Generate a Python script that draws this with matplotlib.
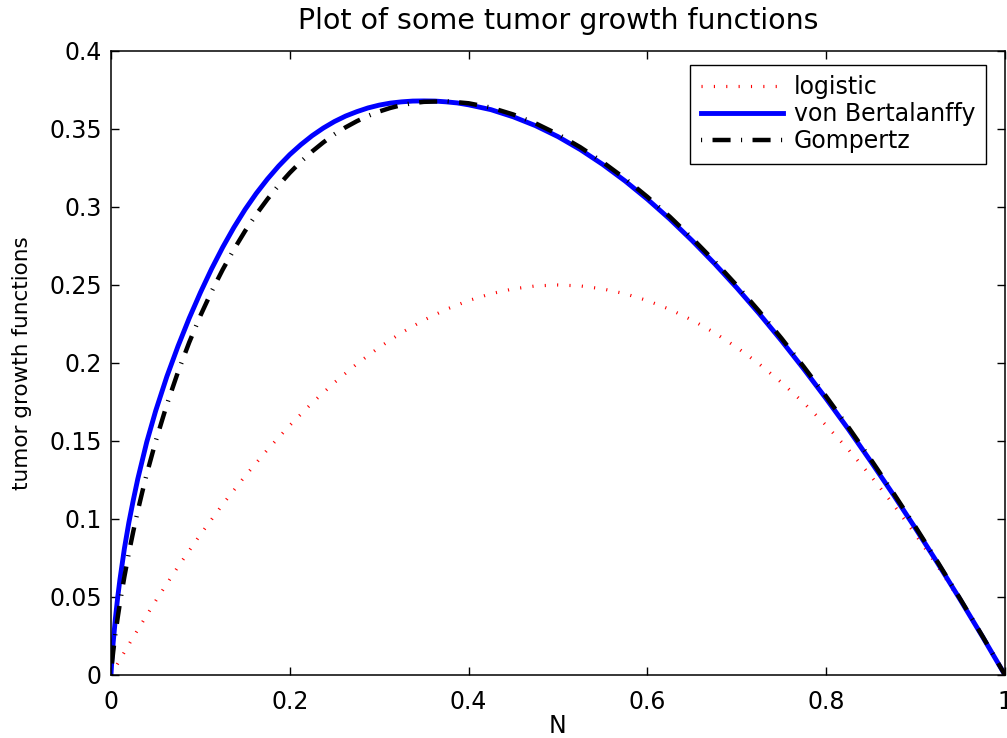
import matplotlib
matplotlib.use("Agg")
import matplotlib.pyplot as plt

# values
n_logistic = [0.0, 0.025, 0.05, 0.075, 0.1, 0.125, 0.15, 0.175, 0.2, 0.225, 0.25,
              0.275, 0.3, 0.325, 0.35, 0.375, 0.4, 0.425, 0.45, 0.475, 0.5,
              0.525, 0.55, 0.575, 0.6, 0.625, 0.65, 0.675, 0.7, 0.725, 0.75,
              0.775, 0.8, 0.825, 0.85, 0.875, 0.9, 0.925, 0.95, 0.975, 1.0]
logistic = [0.0, 0.0244, 0.0475, 0.0694, 0.09, 0.1094, 0.1275, 0.1444, 0.16, 0.1744, 0.1875,
            0.1994, 0.21, 0.2194, 0.2275, 0.2344, 0.24, 0.2444, 0.2475, 0.2494, 0.25,
            0.2494, 0.2475, 0.2444, 0.24, 0.2344, 0.2275, 0.2194, 0.21, 0.1994, 0.1875,
            0.1744, 0.16, 0.1444, 0.1275, 0.1094, 0.09, 0.0694, 0.0475, 0.0244, 0.0]

n_bertalanffy = [0.0, 0.001, 0.0025, 0.005, 0.0075, 0.01, 0.015, 0.02, 0.025, 0.03, 0.04,
                 0.05, 0.0625, 0.075, 0.0875, 0.1, 0.1125, 0.125, 0.1375, 0.15, 0.1625,
                 0.175, 0.1875, 0.2, 0.2125, 0.225, 0.2375, 0.25, 0.2625, 0.275, 0.2875,
                 0.3, 0.3125, 0.325, 0.3375, 0.35, 0.3625, 0.375, 0.3875, 0.4, 0.425,
                 0.45, 0.475, 0.5, 0.525, 0.55, 0.575, 0.6, 0.625, 0.65, 0.675, 0.7,
                 0.725, 0.75, 0.775, 0.8, 0.825, 0.85, 0.875, 0.9, 0.925, 0.95, 0.975, 1.0]
bertalanffy = [0.0, 0.0099, 0.021, 0.0365, 0.0497, 0.0611, 0.081, 0.0977, 0.1122, 0.1257, 0.1493,
               0.1693, 0.1913, 0.2108, 0.2287, 0.2451, 0.2603, 0.2742, 0.2869, 0.2984, 0.3087,
               0.3179, 0.3262, 0.3336, 0.3400, 0.3457, 0.3506, 0.3548, 0.3583, 0.3611, 0.3635,
               0.3653, 0.3666, 0.3674, 0.3679, 0.3680, 0.3679, 0.3674, 0.3667, 0.3655, 0.3624,
               0.3578, 0.3521, 0.3451, 0.3368, 0.3273, 0.3167, 0.3050, 0.2923, 0.2785, 0.2638, 0.2482,
               0.2317, 0.2143, 0.1961, 0.1771, 0.1574, 0.1368, 0.1157, 0.0939, 0.0714, 0.0482, 0.0244, 0.0]

n_gompertz = [0.0, 0.0005, 0.001, 0.0025, 0.005, 0.0075, 0.01, 0.015, 0.02, 0.025, 0.03,
              0.035, 0.04, 0.05, 0.0625, 0.075, 0.0875, 0.1, 0.1125, 0.125, 0.1375,
              0.15, 0.1625, 0.175, 0.1875, 0.2, 0.2125, 0.225, 0.2375, 0.25, 0.2625,
              0.275, 0.2875, 0.3, 0.3125, 0.325, 0.3375, 0.35, 0.375, 0.4, 0.425,
              0.45, 0.475, 0.5, 0.525, 0.55, 0.575, 0.6, 0.625, 0.65, 0.675, 0.7,
              0.725, 0.75, 0.775, 0.8, 0.825, 0.85, 0.875, 0.9, 0.925, 0.95, 0.975, 1.0]
gompertz = [0.0, 0.0038, 0.0069, 0.0150, 0.0265, 0.0367, 0.0461, 0.0630, 0.0782, 0.0922, 0.1052,
            0.1173, 0.1288, 0.1498, 0.1733, 0.1943, 0.2132, 0.2303, 0.2458, 0.2599, 0.2728,
            0.2846, 0.2953, 0.3050, 0.3139, 0.3219, 0.3291, 0.3356, 0.3414, 0.3466, 0.3511,
            0.3550, 0.3584, 0.3612, 0.3635, 0.3653, 0.3666, 0.3674, 0.3678, 0.3665, 0.3637,
            0.3593, 0.3536, 0.3466, 0.3383, 0.3288, 0.3182, 0.3065, 0.2938, 0.2800, 0.2653, 0.2497,
            0.2332, 0.2158, 0.1975, 0.1785, 0.1587, 0.1381, 0.1168, 0.0948, 0.0721, 0.0487, 0.0247, 0.0]

x_ticks = [0, 0.2, 0.4, 0.6, 0.8, 1.0]
x_tick_labels = ["0", "0.2", "0.4", "0.6", "0.8", "1"]
y_ticks = [0, 0.05, 0.1, 0.15, 0.2, 0.25, 0.3, 0.35, 0.4]
y_tick_labels = ["0", "0.05", "0.1", "0.15", "0.2", "0.25", "0.3", "0.35", "0.4"]

# dash lengths given in points, not scaled by line width
plt.rcParams['lines.scale_dashes'] = False

fig = plt.figure(figsize=(10.07, 7.38), dpi=100)
ax = fig.add_axes([0.1102, 0.0854, 0.8878, 0.8455])

ax.plot(n_logistic, logistic, color='red', linewidth=2.3,
        linestyle=(0, (0.8, 8.1)), label='logistic')
ax.plot(n_bertalanffy, bertalanffy, color='blue', linewidth=3.5,
        solid_joinstyle='round', label='von Bertalanffy')
ax.plot(n_gompertz, gompertz, color='black', linewidth=3.2,
        linestyle=(20.5, (13, 7.5, 0.8, 7.5)), label='Gompertz')

ax.set_xlim(0, 1)
ax.set_ylim(0, 0.4)
ax.set_xticks(x_ticks)
ax.set_xticklabels(x_tick_labels)
ax.set_yticks(y_ticks)
ax.set_yticklabels(y_tick_labels)
ax.tick_params(direction='in', length=6, width=1, top=True, right=True, labelsize=17)
ax.tick_params(axis='x', pad=11)
ax.tick_params(axis='y', pad=6.5)
for s in ax.spines.values():
    s.set_linewidth(1.1)

ax.set_title('Plot of some tumor growth functions', fontsize=20.5, pad=16)
ax.set_xlabel('N', fontsize=17, va='top')
ax.xaxis.set_label_coords(0.5, -0.063)
ax.set_ylabel('tumor growth functions', fontsize=15.5, va='center')
ax.yaxis.set_label_coords(-0.0996, 0.5)

leg = ax.legend(loc='upper right', bbox_to_anchor=(0.979, 0.978), borderaxespad=0,
                fontsize=17, fancybox=False, framealpha=1, edgecolor='black',
                borderpad=0.45, labelspacing=0.12, handlelength=3.5, handletextpad=0.45)
leg.get_frame().set_linewidth(1.0)

fig.savefig('out.png', dpi=100)
